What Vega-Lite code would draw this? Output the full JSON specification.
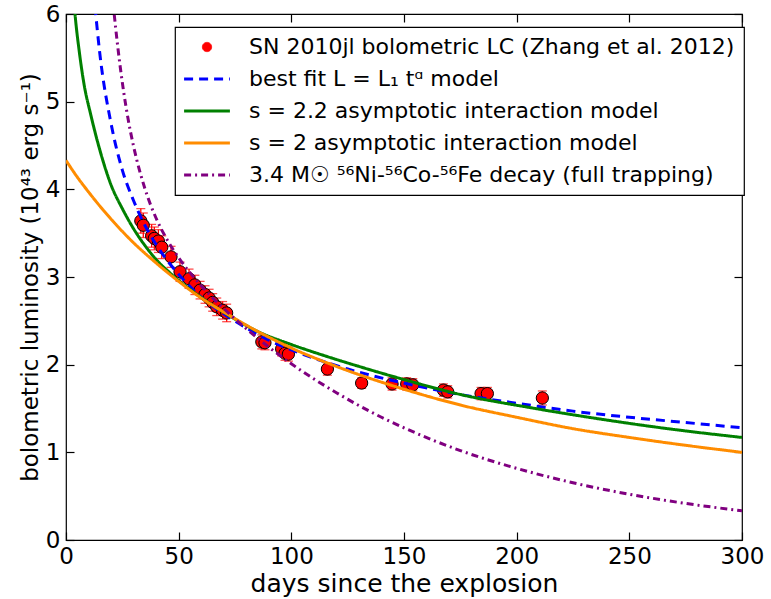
{
  "$schema": "https://vega.github.io/schema/vega-lite/v6.json",
  "width": 676,
  "height": 526,
  "autosize": {"type": "none"},
  "padding": {"left": 66, "top": 14, "right": 29, "bottom": 59},
  "background": "white",
  "config": {
    "font": "DejaVu Sans",
    "view": {"stroke": "black", "strokeWidth": 1.2},
    "axis": {
      "domain": false,
      "tickColor": "black", "tickWidth": 1.2, "tickSize": 8, "offset": -8,
      "grid": false,
      "labelFont": "DejaVu Sans", "labelFontSize": 23, "labelColor": "black",
      "labelFlush": false, "labelOverlap": false,
      "titleFont": "DejaVu Sans", "titleFontWeight": "normal", "titleColor": "black"
    },
    "legend": {
      "orient": "none", "legendX": 109, "legendY": 13, "title": null, "padding": 9,
      "strokeColor": "black", "fillColor": "white", "cornerRadius": 0,
      "labelFont": "DejaVu Sans", "labelFontSize": 22, "labelColor": "black", "labelLimit": 800, "labelOffset": 43,
      "symbolType": "stroke", "symbolSize": 400, "rowPadding": 10
    }
  },
  "datasets": {
    "obs": [
      {"t": 33.2, "L": 3.64, "err": 0.14},
      {"t": 34.3, "L": 3.59, "err": 0.14},
      {"t": 38.0, "L": 3.47, "err": 0.13},
      {"t": 39.2, "L": 3.44, "err": 0.13},
      {"t": 41.0, "L": 3.41, "err": 0.13},
      {"t": 42.5, "L": 3.34, "err": 0.13},
      {"t": 46.6, "L": 3.23, "err": 0.12},
      {"t": 50.6, "L": 3.06, "err": 0.11},
      {"t": 54.6, "L": 2.98, "err": 0.11},
      {"t": 57.2, "L": 2.91, "err": 0.11},
      {"t": 59.5, "L": 2.85, "err": 0.10},
      {"t": 61.7, "L": 2.80, "err": 0.10},
      {"t": 63.5, "L": 2.76, "err": 0.10},
      {"t": 65.1, "L": 2.71, "err": 0.10},
      {"t": 66.9, "L": 2.66, "err": 0.10},
      {"t": 69.5, "L": 2.62, "err": 0.10},
      {"t": 71.3, "L": 2.59, "err": 0.10},
      {"t": 86.9, "L": 2.26, "err": 0.08},
      {"t": 88.3, "L": 2.25, "err": 0.08},
      {"t": 95.7, "L": 2.18, "err": 0.08},
      {"t": 97.2, "L": 2.13, "err": 0.08},
      {"t": 98.7, "L": 2.12, "err": 0.08},
      {"t": 116.0, "L": 1.95, "err": 0.07},
      {"t": 131.2, "L": 1.79, "err": 0.06},
      {"t": 144.7, "L": 1.78, "err": 0.07},
      {"t": 151.2, "L": 1.78, "err": 0.07},
      {"t": 153.9, "L": 1.77, "err": 0.07},
      {"t": 167.5, "L": 1.71, "err": 0.07},
      {"t": 169.4, "L": 1.69, "err": 0.07},
      {"t": 184.2, "L": 1.67, "err": 0.07},
      {"t": 187.0, "L": 1.67, "err": 0.07},
      {"t": 211.4, "L": 1.62, "err": 0.08}
    ],
    "curves": [
      {"series": "fit", "t": 11, "L": 6.6},
      {"series": "fit", "t": 13, "L": 6.05},
      {"series": "fit", "t": 15, "L": 5.55},
      {"series": "fit", "t": 20, "L": 4.75},
      {"series": "fit", "t": 25, "L": 4.22},
      {"series": "fit", "t": 30, "L": 3.87},
      {"series": "fit", "t": 35, "L": 3.59},
      {"series": "fit", "t": 40, "L": 3.37},
      {"series": "fit", "t": 50, "L": 3.03},
      {"series": "fit", "t": 60, "L": 2.77},
      {"series": "fit", "t": 70, "L": 2.58},
      {"series": "fit", "t": 80, "L": 2.42},
      {"series": "fit", "t": 90, "L": 2.28},
      {"series": "fit", "t": 100, "L": 2.17},
      {"series": "fit", "t": 125, "L": 1.95},
      {"series": "fit", "t": 150, "L": 1.79},
      {"series": "fit", "t": 175, "L": 1.66},
      {"series": "fit", "t": 200, "L": 1.56},
      {"series": "fit", "t": 225, "L": 1.47},
      {"series": "fit", "t": 250, "L": 1.40},
      {"series": "fit", "t": 275, "L": 1.34},
      {"series": "fit", "t": 300, "L": 1.28},
      {"series": "s22", "t": 0, "L": 7.6},
      {"series": "s22", "t": 2, "L": 6.7},
      {"series": "s22", "t": 4, "L": 6.0},
      {"series": "s22", "t": 6, "L": 5.55},
      {"series": "s22", "t": 8, "L": 5.2},
      {"series": "s22", "t": 11, "L": 4.85},
      {"series": "s22", "t": 15, "L": 4.45},
      {"series": "s22", "t": 20, "L": 4.05},
      {"series": "s22", "t": 25, "L": 3.78},
      {"series": "s22", "t": 30, "L": 3.55},
      {"series": "s22", "t": 35, "L": 3.36},
      {"series": "s22", "t": 40, "L": 3.2},
      {"series": "s22", "t": 46, "L": 3.05},
      {"series": "s22", "t": 55, "L": 2.86},
      {"series": "s22", "t": 65, "L": 2.68},
      {"series": "s22", "t": 75, "L": 2.52},
      {"series": "s22", "t": 85, "L": 2.38},
      {"series": "s22", "t": 100, "L": 2.23},
      {"series": "s22", "t": 115, "L": 2.1},
      {"series": "s22", "t": 130, "L": 1.98},
      {"series": "s22", "t": 150, "L": 1.83},
      {"series": "s22", "t": 175, "L": 1.66},
      {"series": "s22", "t": 206, "L": 1.51},
      {"series": "s22", "t": 237, "L": 1.38},
      {"series": "s22", "t": 270, "L": 1.26},
      {"series": "s22", "t": 300, "L": 1.17},
      {"series": "s2", "t": 0, "L": 4.33},
      {"series": "s2", "t": 5, "L": 4.14},
      {"series": "s2", "t": 10, "L": 3.97},
      {"series": "s2", "t": 15, "L": 3.81},
      {"series": "s2", "t": 20, "L": 3.66},
      {"series": "s2", "t": 30, "L": 3.39},
      {"series": "s2", "t": 40, "L": 3.16},
      {"series": "s2", "t": 50, "L": 2.95},
      {"series": "s2", "t": 60, "L": 2.76},
      {"series": "s2", "t": 70, "L": 2.60},
      {"series": "s2", "t": 80, "L": 2.45},
      {"series": "s2", "t": 100, "L": 2.19},
      {"series": "s2", "t": 120, "L": 1.98},
      {"series": "s2", "t": 150, "L": 1.72},
      {"series": "s2", "t": 175, "L": 1.54},
      {"series": "s2", "t": 200, "L": 1.40},
      {"series": "s2", "t": 225, "L": 1.27},
      {"series": "s2", "t": 250, "L": 1.17},
      {"series": "s2", "t": 275, "L": 1.08},
      {"series": "s2", "t": 300, "L": 1.00},
      {"series": "ni", "t": 20, "L": 6.38},
      {"series": "ni", "t": 21, "L": 6.10},
      {"series": "ni", "t": 22, "L": 5.85},
      {"series": "ni", "t": 24, "L": 5.41},
      {"series": "ni", "t": 27.5, "L": 4.81},
      {"series": "ni", "t": 30, "L": 4.49},
      {"series": "ni", "t": 35, "L": 4.01},
      {"series": "ni", "t": 40, "L": 3.67},
      {"series": "ni", "t": 45, "L": 3.42},
      {"series": "ni", "t": 50, "L": 3.22},
      {"series": "ni", "t": 60, "L": 2.90},
      {"series": "ni", "t": 70, "L": 2.64},
      {"series": "ni", "t": 80, "L": 2.41},
      {"series": "ni", "t": 90, "L": 2.20},
      {"series": "ni", "t": 100, "L": 2.01},
      {"series": "ni", "t": 120, "L": 1.68},
      {"series": "ni", "t": 140, "L": 1.40},
      {"series": "ni", "t": 150, "L": 1.28},
      {"series": "ni", "t": 175, "L": 1.02},
      {"series": "ni", "t": 200, "L": 0.817},
      {"series": "ni", "t": 225, "L": 0.653},
      {"series": "ni", "t": 250, "L": 0.522},
      {"series": "ni", "t": 275, "L": 0.417},
      {"series": "ni", "t": 300, "L": 0.333}
    ]
  },
  "layer": [
    {
      "data": {"name": "obs"},
      "mark": {"type": "errorbar", "ticks": true, "color": "red", "size": 9, "thickness": 1.3},
      "encoding": {
        "x": {"field": "t", "type": "quantitative", "scale": {"domain": [0, 300], "nice": false}, "axis": null},
        "y": {"field": "L", "type": "quantitative", "scale": {"domain": [0, 6], "nice": false}, "axis": null},
        "yError": {"field": "err"}
      }
    },
    {
      "data": {"name": "obs"},
      "mark": {"type": "point", "filled": true, "size": 150, "stroke": "black", "strokeWidth": 1, "opacity": 1},
      "encoding": {
        "x": {"field": "t", "type": "quantitative", "scale": {"domain": [0, 300], "nice": false},
          "axis": {"orient": "bottom", "title": "days since the explosion", "titleFontSize": 25, "values": [0, 50, 100, 150, 200, 250, 300], "labelPadding": 5, "titlePadding": 3}},
        "y": {"field": "L", "type": "quantitative", "scale": {"domain": [0, 6], "nice": false},
          "axis": {"orient": "left", "title": "bolometric luminosity (10⁴³ erg s⁻¹)", "titleFontSize": 23, "values": [0, 1, 2, 3, 4, 5, 6], "labelPadding": 6, "titlePadding": 3}},
        "color": {
          "datum": "data", "type": "nominal",
          "scale": {"domain": ["data", "fit", "s22", "s2", "ni"], "range": ["red", "blue", "green", "darkorange", "purple"]},
          "legend": {
            "title": null, "orient": "none", "legendX": 109, "legendY": 13,
            "labelExpr": "datum.value == 'data' ? 'SN 2010jl bolometric LC (Zhang et al. 2012)' : datum.value == 'fit' ? 'best fit L = L₁ tᵅ  model' : datum.value == 's22' ? 's = 2.2 asymptotic interaction model' : datum.value == 's2' ? 's = 2 asymptotic interaction model' : '3.4 M☉ ⁵⁶Ni-⁵⁶Co-⁵⁶Fe decay (full trapping)'",
            "encode": {
              "symbols": {"update": {
                "shape": {"signal": "datum.index === 0 ? 'circle' : 'stroke'"},
                "size": {"signal": "datum.index === 0 ? 85 : 2100"},
                "x": {"value": 23},
                "fill": {"signal": "datum.index === 0 ? 'red' : 'transparent'"},
                "stroke": {"signal": "datum.index === 0 ? 'black' : datum.index === 1 ? 'blue' : datum.index === 2 ? 'green' : datum.index === 3 ? 'darkorange' : 'purple'"},
                "strokeWidth": {"signal": "datum.index === 0 ? 1 : 3"},
                "strokeDash": {"signal": "datum.index === 1 ? [9, 6] : datum.index === 4 ? [7, 4, 2, 4] : [1, 0]"},
                "opacity": {"value": 1}
              }},
              "legend": {"update": {"strokeWidth": {"value": 1.2}}}
            }
          }
        }
      }
    },
    {
      "data": {"name": "curves"},
      "mark": {"type": "line", "clip": true, "strokeWidth": 3, "interpolate": "monotone"},
      "encoding": {
        "x": {"field": "t", "type": "quantitative", "scale": {"domain": [0, 300], "nice": false},
          "axis": {"orient": "top", "labels": false, "title": null, "values": [0, 50, 100, 150, 200, 250, 300]}},
        "y": {"field": "L", "type": "quantitative", "scale": {"domain": [0, 6], "nice": false},
          "axis": {"orient": "right", "labels": false, "title": null, "values": [0, 1, 2, 3, 4, 5, 6]}},
        "color": {
          "field": "series", "type": "nominal",
          "scale": {"domain": ["data", "fit", "s22", "s2", "ni"], "range": ["red", "blue", "green", "darkorange", "purple"]},
          "legend": {
            "title": null, "orient": "none", "legendX": 109, "legendY": 13,
            "labelExpr": "datum.value == 'data' ? 'SN 2010jl bolometric LC (Zhang et al. 2012)' : datum.value == 'fit' ? 'best fit L = L₁ tᵅ  model' : datum.value == 's22' ? 's = 2.2 asymptotic interaction model' : datum.value == 's2' ? 's = 2 asymptotic interaction model' : '3.4 M☉ ⁵⁶Ni-⁵⁶Co-⁵⁶Fe decay (full trapping)'",
            "encode": {
              "symbols": {"update": {
                "shape": {"signal": "datum.index === 0 ? 'circle' : 'stroke'"},
                "size": {"signal": "datum.index === 0 ? 85 : 2100"},
                "x": {"value": 23},
                "fill": {"signal": "datum.index === 0 ? 'red' : 'transparent'"},
                "stroke": {"signal": "datum.index === 0 ? 'black' : datum.index === 1 ? 'blue' : datum.index === 2 ? 'green' : datum.index === 3 ? 'darkorange' : 'purple'"},
                "strokeWidth": {"signal": "datum.index === 0 ? 1 : 3"},
                "strokeDash": {"signal": "datum.index === 1 ? [9, 6] : datum.index === 4 ? [7, 4, 2, 4] : [1, 0]"},
                "opacity": {"value": 1}
              }},
              "legend": {"update": {"strokeWidth": {"value": 1.2}}}
            }
          }
        },
        "strokeDash": {
          "field": "series", "type": "nominal",
          "scale": {"domain": ["fit", "s22", "s2", "ni"], "range": [[9, 6], [1, 0], [1, 0], [7, 4, 2, 4]]},
          "legend": null
        }
      }
    }
  ],
  "resolve": {"axis": {"x": "independent", "y": "independent"}}
}
